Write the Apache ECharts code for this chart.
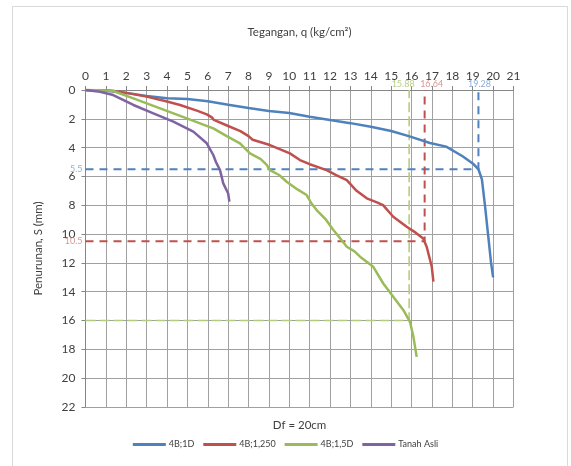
<!DOCTYPE html>
<html>
<head>
<meta charset="utf-8">
<script src="https://cdn.jsdelivr.net/npm/echarts@6/dist/echarts.min.js"></script>
<style>html,body{margin:0;padding:0;background:#fff}#c{width:571px;height:466px}</style>
</head>
<body>
<div id="c"></div>
<script>
// Series data: [q (kg/cm2), S (mm)]
const s4B1D = [[0,0],[1,0.05],[2,0.2],[3,0.42],[4,0.58],[5,0.62],[6,0.78],[7,1.02],[8,1.25],[9,1.45],[10,1.6],[11,1.85],[12,2.08],[13,2.3],[14,2.55],[15,2.85],[15.9,3.22],[16.9,3.68],[17.7,3.93],[18.5,4.6],[19.0,5.1],[19.28,5.5],[19.45,6.2],[19.6,8.0],[19.75,10.0],[19.9,12.0],[20.0,13.0]];
const s4B1250 = [[0,0],[1,0.02],[1.4,0.07],[2,0.2],[3,0.46],[4,0.8],[4.64,1.04],[5.5,1.45],[5.95,1.69],[6.2,1.9],[6.3,2.08],[7.0,2.5],[7.6,2.85],[8.0,3.2],[8.2,3.45],[9.05,3.82],[10.03,4.4],[10.52,4.86],[11.0,5.15],[11.83,5.56],[12.3,5.9],[12.82,6.25],[13.3,7.0],[13.8,7.52],[14.3,7.8],[14.6,7.99],[15.1,8.8],[15.76,9.49],[16.2,9.9],[16.57,10.3],[16.74,10.88],[16.99,12.27],[17.07,13.3]];
const s4B15D = [[0,0],[1,0.03],[1.36,0.07],[2.35,0.58],[3.66,1.27],[4.97,1.97],[6.27,2.66],[6.93,3.2],[7.58,3.7],[8.07,4.4],[8.6,4.8],[8.89,5.2],[9.05,5.56],[9.5,5.9],[9.87,6.37],[10.4,6.9],[10.85,7.29],[11.1,7.9],[11.34,8.33],[11.8,9.0],[12.16,9.72],[12.5,10.3],[12.82,10.88],[13.2,11.2],[13.47,11.57],[14.12,12.27],[14.61,13.43],[15.1,14.35],[15.6,15.28],[15.92,16.09],[16.09,17.13],[16.25,18.52]];
const sTanahAsli = [[0,0],[0.71,0.12],[1.36,0.35],[2.35,1.04],[3.33,1.62],[4.31,2.2],[5.29,2.89],[5.95,3.7],[6.27,4.51],[6.4,5.0],[6.6,5.56],[6.76,6.48],[7.0,7.18],[7.06,7.75]];
const seriesNames = ['4B;1D','4B;1,250','4B;1,5D','Tanah Asli'];
const seriesColors = ['#4F81BD','#C0504D','#9BBB59','#8064A2'];
// failure loads and settlements
const qult = [19.28, 16.64, 15.88];
const sult = [5.5, 10.5, 16];
const qultLabels = ['19.28','16.64','15.88'];
const sultLabels = ['5.5','10.5',''];
const xTicks = {min:0, max:21, interval:1};
const yTicks = {min:0, max:22, interval:2};

const font = 'Lato, "Open Sans", "Liberation Sans", sans-serif';
const allData = [s4B1D, s4B1250, s4B15D, sTanahAsli];
const series = allData.map((d,i)=>({
  name: seriesNames[i], type:'line', data:d, showSymbol:false, symbol:'none',
  lineStyle:{color:seriesColors[i], width:2.5}, itemStyle:{color:seriesColors[i]}, z:3
}));
const dashColors = ['#4F81BD','#C0504D','#B5CC7F'];
const labColors = ['#6F9BD1','#D07C78','#A9C46C'];
const labOffsets = [[1,0],[7,0],[-6,0]];
qult.forEach((q,i)=>{
  series.push({
    type:'line', showSymbol:false, symbol:'none', silent:true, z:2,
    data:[[0,sult[i]],[q,sult[i]],[q,0]],
    lineStyle:{color:dashColors[i], width: i===2?1.6:2, type: i===2?[10,4]:[8,6]},
    label:{show:false}
  });
  series.push({
    type:'scatter', symbolSize:0, silent:true,
    data:[{value:[q,0], label:{show:true, position:'top', distance:1, offset:labOffsets[i], formatter:qultLabels[i]}},
          {value:[0,sult[i]], label:{show:sultLabels[i]!=='', position:'left', distance:3, formatter:sultLabels[i]}}],
    label:{color:labColors[i], fontSize:9, fontFamily:font}
  });
});

const chart = echarts.init(document.getElementById('c'));
chart.setOption({
  animation:false,
  backgroundColor:'#fff',
  grid:{left:85.5, right:57.5, top:90, bottom:59},
  legend:{
    data:seriesNames, bottom:12, left:'center', itemWidth:33, itemHeight:3, icon:'rect',
    itemGap:9, textStyle:{fontSize:9, color:'#404040', fontFamily:font, padding:[0,0,0,-2]}
  },
  xAxis:{
    type:'value', position:'top', min:xTicks.min, max:xTicks.max, interval:xTicks.interval,
    name:'Tegangan, q (kg/cm²)', nameLocation:'middle', nameGap:52,
    nameTextStyle:{fontSize:11.5, color:'#404040', fontFamily:font},
    axisLine:{show:true, lineStyle:{color:'#868686'}},
    axisTick:{show:true, length:4, lineStyle:{color:'#868686'}},
    axisLabel:{fontSize:12, color:'#404040', margin:8, fontFamily:font},
    splitLine:{show:true, lineStyle:{color:'#A0A0A0', width:1}}
  },
  yAxis:{
    type:'value', inverse:true, min:yTicks.min, max:yTicks.max, interval:yTicks.interval,
    name:'Penurunan, S (mm)', nameLocation:'middle', nameGap:41,
    nameTextStyle:{fontSize:11.5, color:'#404040', fontFamily:font},
    axisLine:{show:true, lineStyle:{color:'#868686'}},
    axisTick:{show:true, length:4, lineStyle:{color:'#868686'}},
    axisLabel:{fontSize:12, color:'#404040', margin:10, fontFamily:font},
    splitLine:{show:true, lineStyle:{color:'#A0A0A0', width:1}}
  },
  graphic:[
    {type:'rect', shape:{x:12.5, y:6.5, width:555, height:480}, style:{fill:'none', stroke:'#D9D9D9', lineWidth:1}, z:-1},
    {type:'text', x:299.5, y:425, style:{text:'Df = 20cm', fontSize:11.5, fill:'#404040', fontFamily:font, textAlign:'center', textVerticalAlign:'middle'}}
  ],
  series:series
});
</script>
</body>
</html>
